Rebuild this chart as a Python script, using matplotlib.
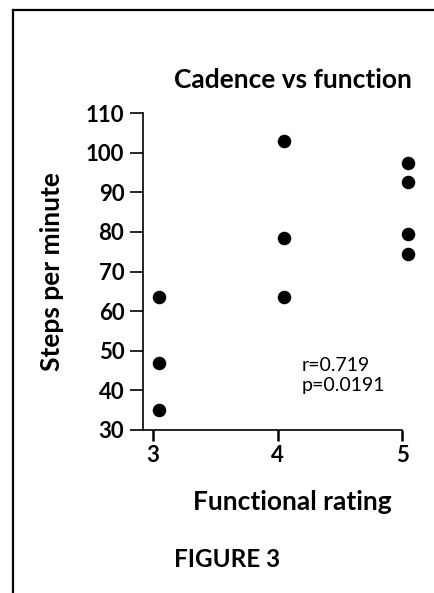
import matplotlib
matplotlib.use('Agg')
import matplotlib.pyplot as plt
import matplotlib.transforms as mtransforms
from matplotlib.lines import Line2D

# functional rating vs cadence (steps per minute)
rating = [3, 3, 3, 4, 4, 4, 5, 5, 5, 5]
cadence = [63.5, 47, 35, 103, 78.5, 63.5, 97.5, 92.5, 79.5, 74.5]
x_ticks = [3, 4, 5]
y_ticks = [30, 40, 50, 60, 70, 80, 90, 100, 110]
stats_text = 'r=0.719\np=0.0191'

plt.rcParams['font.family'] = ['Lato', 'DejaVu Sans']

fig = plt.figure(figsize=(4.34, 5.93), dpi=100)
ax = fig.add_axes([0.3295, 0.2749, 0.597, 0.5345])

# printed dots sit a few pixels right of their ticks
shift = mtransforms.offset_copy(ax.transData, fig=fig, x=6, y=0, units='dots')
ax.scatter(rating, cadence, s=95, c='black', lw=0, transform=shift, clip_on=False)

ax.set_xlim(2.92, 5.0)
ax.set_ylim(30, 110)
ax.set_xticks(x_ticks)
ax.set_yticks(y_ticks)
for side in ['top', 'right']:
    ax.spines[side].set_visible(False)
for side in ['left', 'bottom']:
    ax.spines[side].set_linewidth(1.2)
ax.tick_params(axis='y', direction='out', length=9.5, width=1.2, pad=4,
               labelsize=16)
ax.tick_params(axis='x', direction='out', length=8, width=1.8, pad=3,
               labelsize=16)
for lab in ax.get_xticklabels() + ax.get_yticklabels():
    lab.set_fontweight('bold')

ax.set_ylabel('Steps per minute', fontsize=19, fontweight='bold')
ax.yaxis.set_label_coords(-0.305, 0.5)
ax.set_xlabel('Functional rating', fontsize=19, fontweight='bold')
ax.xaxis.set_label_coords(0.575, -0.19)

fig.text(0.675, 0.865, 'Cadence vs function', ha='center', va='center',
         fontsize=19, fontweight='bold')
ax.text(0.614, 0.173, stats_text, transform=ax.transAxes, ha='left', va='center',
        fontsize=14, linespacing=1.2)
fig.text(0.523, 0.056, 'FIGURE 3', ha='center', va='center',
         fontsize=17.5, fontweight='bold')

# page frame (top and left edges)
fig.add_artist(Line2D([0.029, 1.0], [0.983, 0.983], transform=fig.transFigure,
                      color='black', lw=1.6))
fig.add_artist(Line2D([0.029, 0.029], [0.0, 0.983], transform=fig.transFigure,
                      color='black', lw=1.6))

fig.savefig('out.png', dpi=100, facecolor='white')
